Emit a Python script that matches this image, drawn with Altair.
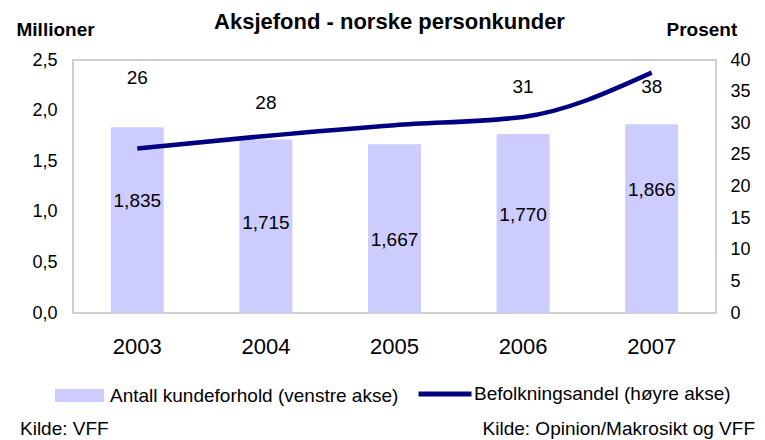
import altair as alt
import pandas as pd

years = ["2003", "2004", "2005", "2006", "2007"]
customers = [1.835, 1.715, 1.667, 1.770, 1.866]          # millioner
share = [26, 28, 29.7, 31, 38]                            # prosent
share_labels = ["26", "28", "", "31", "38"]
customer_label_at = [1.11, 0.89, 0.72, 0.97, 1.215]
share_label_at = [37.2, 33.2, 33.0, 35.7, 35.7]

bar_name = "Antall kundeforhold (venstre akse)"
line_name = "Befolkningsandel (høyre akse)"
title_text = "Aksjefond - norske personkunder"
source_left = "Kilde: VFF"
source_right = "Kilde: Opinion/Makrosikt og VFF"

FONT = "Liberation Sans"
LEFT_DOMAIN = [0, 2.5]
RIGHT_DOMAIN = [0, 40]

df = pd.DataFrame({
    "year": years,
    "customers": customers,
    "share": share,
    "share_label": share_labels,
    "cust_at": customer_label_at,
    "share_at": share_label_at,
    "bar_series": [bar_name] * 5,
    "line_series": [line_name] * 5,
})

base = alt.Chart(df)

x = alt.X(
    "year:O",
    scale=alt.Scale(paddingInner=0, paddingOuter=0),
    axis=alt.Axis(title=None, labelAngle=0, labelFontSize=22, labelPadding=23,
                  ticks=False, domain=False, labelColor="black"),
)

bars = base.mark_bar(size=53).encode(
    x=x,
    y=alt.Y(
        "customers:Q",
        scale=alt.Scale(domain=LEFT_DOMAIN, nice=False),
        axis=alt.Axis(values=[0, 0.5, 1, 1.5, 2, 2.5],
                      labelExpr="replace(format(datum.value, '.1f'), '.', ',')",
                      title="Millioner", titleAngle=0, titleX=-57, titleY=-31,
                      titleAlign="left", titleBaseline="middle", titleFontSize=19,
                      titleFontWeight="bold", ticks=False, domain=False, grid=False,
                      labelPadding=16, labelFontSize=18, labelColor="black"),
    ),
    fill=alt.Fill("bar_series:N",
                  scale=alt.Scale(domain=[bar_name], range=["#ccccff"]),
                  legend=alt.Legend(title=None, orient="none", legendX=-18, legendY=311,
                                    symbolType="M-1,-0.265H1V0.265H-1Z", symbolSize=2401,
                                    symbolStrokeWidth=0, labelFontSize=19, labelLimit=0,
                                    labelColor="black", padding=0, labelOffset=6)),
)

bar_text = base.transform_calculate(
    lbl="replace(format(datum.customers, '.3f'), '.', ',')"
).mark_text(fontSize=19, color="black").encode(
    x=x,
    y=alt.Y("cust_at:Q", scale=alt.Scale(domain=LEFT_DOMAIN, nice=False), axis=None),
    text="lbl:N",
)

line = base.mark_line(strokeWidth=4.5, interpolate="monotone").encode(
    x=x,
    y=alt.Y(
        "share:Q",
        scale=alt.Scale(domain=RIGHT_DOMAIN, nice=False),
        axis=alt.Axis(orient="right", values=list(range(0, 41, 5)),
                      title="Prosent", titleAngle=0, titleX=-50, titleY=-31,
                      titleAlign="left", titleBaseline="middle", titleFontSize=19,
                      titleFontWeight="bold", ticks=False, domain=False, grid=False,
                      labelPadding=14, labelFontSize=18, labelColor="black"),
    ),
    stroke=alt.Stroke("line_series:N",
                      scale=alt.Scale(domain=[line_name], range=["#000080"]),
                      legend=alt.Legend(title=None, orient="none", legendX=343, legendY=305,
                                        symbolType="stroke", symbolSize=2809,
                                        symbolStrokeWidth=5, labelFontSize=19, labelLimit=0,
                                        labelColor="black", padding=0, labelOffset=0)),
)

line_text = base.mark_text(fontSize=19, color="black").encode(
    x=x,
    y=alt.Y("share_at:Q", scale=alt.Scale(domain=RIGHT_DOMAIN, nice=False), axis=None),
    text="share_label:N",
)

src1 = alt.Chart(pd.DataFrame({"t": [source_left]})).mark_text(
    fontSize=19, align="left", baseline="alphabetic", color="black"
).encode(text="t:N", x=alt.value(-53), y=alt.value(375))
src2 = alt.Chart(pd.DataFrame({"t": [source_right]})).mark_text(
    fontSize=19, align="right", baseline="alphabetic", color="black"
).encode(text="t:N", x=alt.value(682), y=alt.value(375))

chart = alt.layer(bars, bar_text, line, line_text, src1, src2).resolve_scale(
    y="independent", fill="independent", stroke="independent"
).properties(
    width=643, height=253,
    title=alt.Title(title_text, fontSize=22, fontWeight="bold", font=FONT,
                    anchor="middle", offset=-14, dx=-5, color="black"),
    autosize=alt.AutoSizeParams(type="none"),
    padding={"left": 73, "top": 60, "right": 49, "bottom": 127},
).configure(
    font=FONT,
).configure_view(
    stroke="#c0c0c0", strokeWidth=1.5,
).configure_axis(
    labelFont=FONT, titleFont=FONT,
).configure_legend(
    labelFont=FONT,
)

chart.save("out.html", embed_options={"renderer": "svg", "actions": False})
